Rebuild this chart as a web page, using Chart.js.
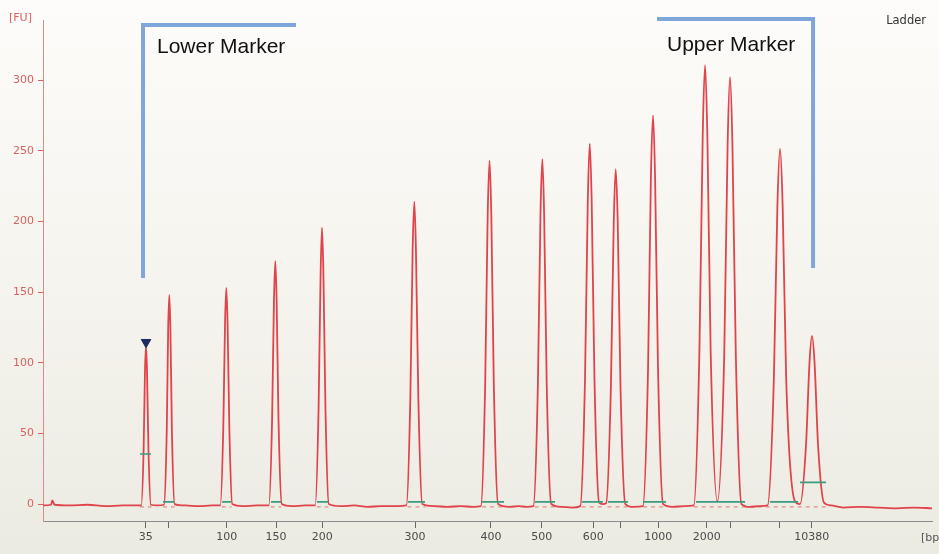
<!DOCTYPE html>
<html>
<head>
<meta charset="utf-8">
<script src="https://cdn.jsdelivr.net/npm/chart.js@4"></script>
<style>
  html, body { margin: 0; padding: 0; background: #f6f4ee; }
  canvas { display: block; }
</style>
</head>
<body>
<canvas id="c" width="939" height="554"></canvas>
<script>
// ---------- DATA ----------
// x = migration position along the run (0..100 along the time axis), y = fluorescence [FU]
const xTickPositions = [11.55, 14.17, 20.66, 26.21, 31.42, 41.85, 50.39, 56.10, 61.90, 64.91, 69.22, 74.66, 77.36, 82.90, 86.47];
const xTickLabels    = ['35', '', '100', '150', '200', '300', '400', '500', '600', '', '1000', '2000', '', '', '10380'];
const yTickValues    = [0, 50, 100, 150, 200, 250, 300];

// ladder trace (time, FU)
const traceTime = [
  0, 0.9, 1.05, 1.3, 3, 5, 7, 9, 10.5,
  11.05, 11.32, 11.47, 11.59, 11.70, 11.86, 12.13,
  12.9,
  13.61, 13.92, 14.08, 14.21, 14.33, 14.50, 14.80,
  16, 17.5, 19,
  19.94, 20.28, 20.48, 20.62, 20.76, 20.96, 21.29,
  22.5, 24,
  25.40, 25.77, 25.98, 26.13, 26.28, 26.49, 26.86,
  28, 29.5,
  30.62, 31.00, 31.23, 31.38, 31.54, 31.77, 32.15,
  33.5, 35, 36.5, 38, 39.8,
  40.88, 41.32, 41.58, 41.77, 41.95, 42.22, 42.66,
  44, 45.5, 47, 48.4,
  49.26, 49.74, 50.02, 50.23, 50.43, 50.71, 51.19,
  52.5, 53.5, 54.4,
  55.16, 55.67, 55.96, 56.17, 56.37, 56.66, 57.17,
  58.3, 59.5,
  60.44, 60.97, 61.28, 61.50, 61.72, 62.03, 62.56,
  62.95,
  63.34, 63.88, 64.20, 64.42, 64.65, 64.96, 65.50,
  66.4,
  67.48, 68.06, 68.38, 68.62, 68.85, 69.18, 69.75,
  70.8, 72.2,
  73.21, 73.84, 74.21, 74.47, 74.73, 75.10, 75.86,
  76.63, 77.01, 77.28, 77.55, 77.93, 78.57,
  79.5, 80.6,
  81.50, 82.21, 82.61, 82.91, 83.20, 83.60, 84.59,
  85.16, 85.83, 86.22, 86.50, 86.79, 87.18, 87.85,
  88.6, 90, 92, 94, 96, 98, 100
];
const traceFU = [
  -1, -0.5, 2.5, -0.5, -1, -0.5, -1.5, -1, -1,
  -1, 39, 94, 112, 94, 39, -0.5,
  -1,
  -0.5, 52, 124, 148, 124, 52, 0,
  -1, -1.5, -1,
  -1, 54, 129, 153, 129, 54, 0,
  -1.5, -1,
  -1, 60, 144, 172, 144, 60, 0,
  -1.5, -1,
  -1, 68, 164, 195.5, 164, 68, 0,
  -1.5, -1, -2, -1.5, -1.5,
  -1, 75, 180, 214, 180, 75, 0,
  -1.5, -2, -1.5, -2,
  -1.5, 85, 204, 243, 204, 85, 0,
  -2, -1.5, -2,
  -1.5, 85, 205, 244, 205, 85, 0,
  -2, -2.5,
  -1.5, 89, 214, 255, 214, 89, 1,
  0,
  0.5, 83, 199, 237, 199, 83, 0,
  -2,
  -1.5, 96, 231, 275, 231, 96, 0,
  -2, -1.5,
  -1, 109, 261, 310.5, 261, 109, 2,
  106, 254, 302, 254, 106, 0,
  -2, -1.5,
  -1, 88, 211, 251.5, 211, 88, 2,
  0, 42, 100, 119, 100, 42, 1,
  -1, -2.5, -2, -2.5, -3, -2.5, -3
];

// peak integration segments (start, end, level) – green bars
const peakSegStart = [10.91, 13.50, 20.14, 25.65, 30.82, 41.06, 49.38, 55.35, 60.63, 63.55, 67.49, 73.46, 81.78, 85.16];
const peakSegEnd   = [12.15, 14.74, 21.15, 26.77, 32.06, 42.97, 51.86, 57.59, 62.99, 65.80, 70.08, 78.97, 84.93, 88.08];
const peakSegLevel = [35.4, 1.5, 1.5, 1.5, 1.5, 1.5, 1.5, 1.5, 1.5, 1.5, 1.5, 1.5, 1.5, 15.3];

// dashed baseline segments (start, end) at baseline level
const baseSegStart = [10.9, 13.5, 20.1, 25.6, 30.8, 41.0, 49.4, 55.3, 60.6, 63.5, 67.5, 73.2];
const baseSegEnd   = [12.2, 14.8, 21.2, 26.8, 32.1, 43.0, 51.9, 57.6, 63.0, 65.8, 70.1, 88.5];
const baseLevel = -2;

// lower marker flag (35 bp)
const markerFlagX = [11.59];
const markerFlagY = [114.5];

// ---------- build datasets ----------
const traceData = traceTime.map((t, i) => ({ x: t, y: traceFU[i] }));

function segmentsToData(starts, ends, levels) {
  const out = [];
  starts.forEach((s, i) => {
    const lv = Array.isArray(levels) ? levels[i] : levels;
    out.push({ x: s, y: lv }, { x: ends[i], y: lv }, { x: (ends[i] + (starts[i + 1] ?? ends[i] + 1)) / 2, y: null });
  });
  return out;
}

// annotation brackets (data coordinates)
const lowerBracket = [{ x: 11.25, y: 160 }, { x: 11.25, y: 338.9 }, { x: 28.46, y: 338.9 }];
const upperBracket = [{ x: 69.07, y: 343.2 }, { x: 86.62, y: 343.2 }, { x: 86.62, y: 167 }];

const bgPlugin = {
  id: 'bg',
  beforeDraw(chart) {
    const { ctx, width, height } = chart;
    const g = ctx.createLinearGradient(0, 0, 0, height);
    g.addColorStop(0, '#fdfcfa');
    g.addColorStop(0.5, '#f6f4ee');
    g.addColorStop(1, '#ecebe2');
    ctx.save();
    ctx.fillStyle = g;
    ctx.fillRect(0, 0, width, height);
    ctx.restore();
  }
};

const textPlugin = {
  id: 'texts',
  afterDraw(chart) {
    const { ctx, chartArea } = chart;
    const xs = chart.scales.x, ys = chart.scales.y;
    ctx.save();
    ctx.textBaseline = 'alphabetic';
    ctx.fillStyle = '#111';
    ctx.font = '21px "Liberation Sans", Arial, sans-serif';
    ctx.textAlign = 'left';
    ctx.fillText('Lower Marker', xs.getPixelForValue(12.82), ys.getPixelForValue(319.1));
    ctx.fillText('Upper Marker', xs.getPixelForValue(70.19), ys.getPixelForValue(320.5));
    ctx.fillStyle = '#333';
    ctx.font = '11.5px "DejaVu Sans", sans-serif';
    ctx.textAlign = 'right';
    ctx.fillText('Ladder', chartArea.right - 6, 24);
    ctx.fillStyle = '#d9605f';
    ctx.font = '11px "DejaVu Sans", sans-serif';
    ctx.textAlign = 'left';
    ctx.textBaseline = 'middle';
    ctx.fillText('[FU]', 9, chartArea.top - 2);
    ctx.fillStyle = '#555';
    ctx.fillText('[bp]', chartArea.right - 11, chartArea.bottom + 17);
    ctx.restore();
  }
};

new Chart(document.getElementById('c'), {
  type: 'line',
  data: {
    datasets: [
      {
        label: 'flag',
        data: markerFlagX.map((x, i) => ({ x, y: markerFlagY[i] })),
        showLine: false,
        pointStyle: 'triangle',
        rotation: 180,
        pointRadius: 5.5,
        pointBackgroundColor: '#1d2a66',
        pointBorderColor: '#1d2a66',
        order: 0,
        clip: false
      },
      {
        label: 'lowerBracket',
        data: lowerBracket,
        borderColor: '#7fa6da',
        borderWidth: 4,
        pointRadius: 0,
        fill: false,
        order: 0,
        clip: false,
        borderCapStyle: 'butt',
        borderJoinStyle: 'miter'
      },
      {
        label: 'upperBracket',
        data: upperBracket,
        borderColor: '#7fa6da',
        borderWidth: 4,
        pointRadius: 0,
        fill: false,
        order: 0,
        clip: false,
        borderJoinStyle: 'miter'
      },
      {
        label: 'peaks',
        data: segmentsToData(peakSegStart, peakSegEnd, peakSegLevel),
        borderColor: '#3c9a80',
        borderWidth: 1.6,
        pointRadius: 0,
        spanGaps: false,
        order: 1
      },
      {
        label: 'trace',
        data: traceData,
        borderColor: '#e0434a',
        borderWidth: 1.8,
        pointRadius: 0,
        cubicInterpolationMode: 'monotone',
        fill: false,
        order: 2
      },
      {
        label: 'baseline',
        data: segmentsToData(baseSegStart, baseSegEnd, baseLevel),
        borderColor: '#e38a8a',
        borderWidth: 1.3,
        borderDash: [4, 4],
        pointRadius: 0,
        spanGaps: false,
        order: 3
      }
    ]
  },
  options: {
    responsive: false,
    animation: false,
    layout: { padding: { left: 0, right: 7, top: 20, bottom: 0 } },
    plugins: { legend: { display: false }, tooltip: { enabled: false } },
    scales: {
      x: {
        type: 'linear',
        min: 0,
        max: 100,
        afterBuildTicks(scale) { scale.ticks = xTickPositions.map(v => ({ value: v })); },
        afterFit(scale) { scale.height = 33; },
        ticks: {
          autoSkip: false,
          maxRotation: 0,
          padding: 3,
          color: '#4a4a4a',
          font: { family: '"DejaVu Sans", sans-serif', size: 11 },
          callback: (v, i) => xTickLabels[i]
        },
        grid: { drawOnChartArea: false, tickLength: 7, color: '#666', tickWidth: 1 },
        border: { color: '#8c8c8c', width: 1 }
      },
      y: {
        type: 'linear',
        min: -12,
        max: 342.5,
        afterBuildTicks(scale) { scale.ticks = yTickValues.map(v => ({ value: v })); },
        afterFit(scale) { scale.width = 43; },
        ticks: {
          padding: 4,
          color: '#d9605f',
          font: { family: '"DejaVu Sans", sans-serif', size: 11 },
          callback: v => String(v)
        },
        grid: { drawOnChartArea: false, tickLength: 5, color: '#d9605f', tickWidth: 1 },
        border: { color: '#dd8a8a', width: 1 }
      }
    }
  },
  plugins: [bgPlugin, textPlugin]
});
</script>
</body>
</html>
